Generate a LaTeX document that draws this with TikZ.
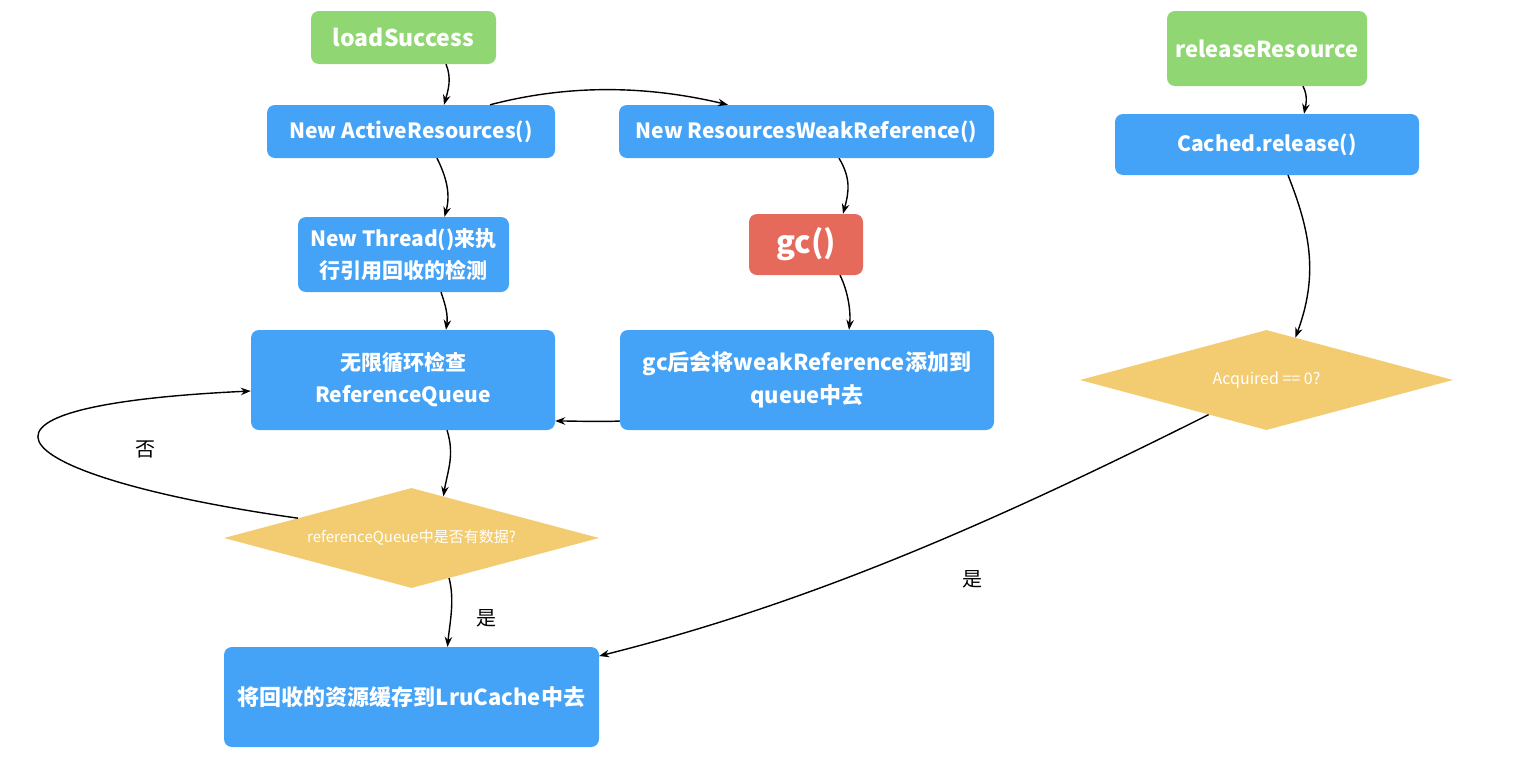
\documentclass[tikz,border=0pt]{standalone}
\usepackage{fontspec}
\setmainfont{Noto Sans CJK SC}
\newfontfamily\cjk{Noto Sans CJK SC}
\usetikzlibrary{shapes.geometric,arrows.meta,calc}
\definecolor{cblue}{RGB}{68,162,247}
\definecolor{cgreen}{RGB}{144,214,115}
\definecolor{cred}{RGB}{229,106,91}
\definecolor{cyel}{RGB}{243,204,113}
\begin{document}
\begin{tikzpicture}[x=1pt,y=-1pt,
  box/.style={rounded corners=8pt, fill=cblue, text=white, inner sep=0pt, align=center, font=\cjk\bfseries\fontsize{21}{32}\selectfont},
  gbox/.style={rounded corners=8pt, fill=cgreen, text=white, inner sep=0pt, font=\cjk\bfseries\fontsize{23}{26}\selectfont},
  rbox/.style={rounded corners=8pt, fill=cred, text=white, inner sep=0pt, font=\cjk\bfseries\fontsize{31}{34}\selectfont},
  dia/.style={diamond, aspect=3.75, fill=cyel, text=white, inner sep=0pt},
  arr/.style={-{Stealth[length=10pt,width=7.5pt]}, line width=1.4pt},
  lbl/.style={font=\cjk\fontsize{20}{24}\selectfont}
]
\fill[white] (0,0) rectangle (1534,766);
\useasboundingbox (0,0) rectangle (1534,766);

\node[gbox, minimum width=185pt, minimum height=53pt] (ls) at (403.5,37.5) {loadSuccess};
\node[box, minimum width=288pt, minimum height=53pt] (na) at (411,131.5) {New ActiveResources()};
\node[box, minimum width=375pt, minimum height=53pt] (nw) at (806.5,131.5) {New ResourcesWeakReference()};
\node[box, minimum width=211pt, minimum height=75pt] (th) at (403.5,254.5) {New Thread()来执\\行引用回收的检测};
\node[rbox, minimum width=114pt, minimum height=61pt] (gc) at (806,244.5) {gc()};
\node[box, minimum width=304pt, minimum height=100pt] (lp) at (403,380) {无限循环检查\\ReferenceQueue};
\node[box, minimum width=374pt, minimum height=100pt, font=\cjk\bfseries\fontsize{22}{33}\selectfont] (ga) at (807,380) {gc后会将weakReference添加到\\queue中去};
\node[dia, minimum width=375pt, minimum height=100pt, font=\cjk\fontsize{15}{17}\selectfont] (d1) at (411.5,538) {referenceQueue中是否有数据?};
\node[box, minimum width=375pt, minimum height=100pt, font=\cjk\bfseries\fontsize{22}{26}\selectfont] (lru) at (411.5,697) {将回收的资源缓存到LruCache中去};
\node[gbox, minimum width=200pt, minimum height=75pt, font=\cjk\bfseries\fontsize{22}{26}\selectfont] (rr) at (1267,48.5) {releaseResource};
\node[box, minimum width=304pt, minimum height=61pt, font=\cjk\bfseries\fontsize{21}{25}\selectfont] (cr) at (1267,144.5) {Cached.release()};
\node[dia, minimum width=373pt, minimum height=100pt, font=\cjk\fontsize{16}{18}\selectfont] (d2) at (1266.5,380) {Acquired == 0?};

\node[lbl] (no) at (145,449) {否};
\node[lbl] (yes1) at (486,618) {是};
\node[lbl] (yes2) at (972,579) {是};

\draw[arr] ([xshift=42.5pt]ls.south) .. controls +(6,14) and +(4,-14) .. ([xshift=33pt]na.north);
\draw[arr] ([xshift=79pt]na.north) .. controls +(80,-21) and +(-80,-19) .. ([xshift=-78.5pt]nw.north);
\draw[arr] ([xshift=26pt]na.south) .. controls +(10,20) and +(6,-22) .. ([xshift=41pt]th.north);
\draw[arr] ([xshift=32.5pt]nw.south) .. controls +(12,20) and +(6,-22) .. ([xshift=37pt]gc.north);
\draw[arr] ([xshift=37.5pt]th.south) .. controls +(5,14) and +(2,-14) .. ([xshift=43pt]lp.north);
\draw[arr] ([xshift=34pt]gc.south) .. controls +(8,16) and +(2,-18) .. ([xshift=42pt]ga.north);
\draw[arr] ([yshift=-41pt]ga.west) .. controls +(-20,1) and +(20,0) .. ([yshift=-41pt]lp.east);
\draw[arr] ([xshift=44pt]lp.south) .. controls +(8,25) and +(4,-25) .. ($(d1.north)!0.17!(d1.east)$);
\draw[arr] ($(d1.south)!0.2!(d1.east)$) .. controls +(6,22) and +(2,-22) .. ([xshift=36pt]lru.north);
\draw[arr] ($(d1.west)!0.395!(d1.north)$) .. controls +(-278,-39) and +(-340,16) .. ([yshift=-11pt]lp.west);
\draw[arr] ([xshift=36pt]rr.south) .. controls +(5,10) and +(2,-10) .. ([xshift=37pt]cr.north);
\draw[arr] ([xshift=21pt]cr.south) .. controls +(24,60) and +(22,-60) .. ($(d2.north)!0.155!(d2.east)$);
\draw[arr] ($(d2.west)!0.69!(d2.south)$) .. controls +(-200,100) and +(220,-55) .. ([yshift=41pt]lru.east);
\end{tikzpicture}
\end{document}
